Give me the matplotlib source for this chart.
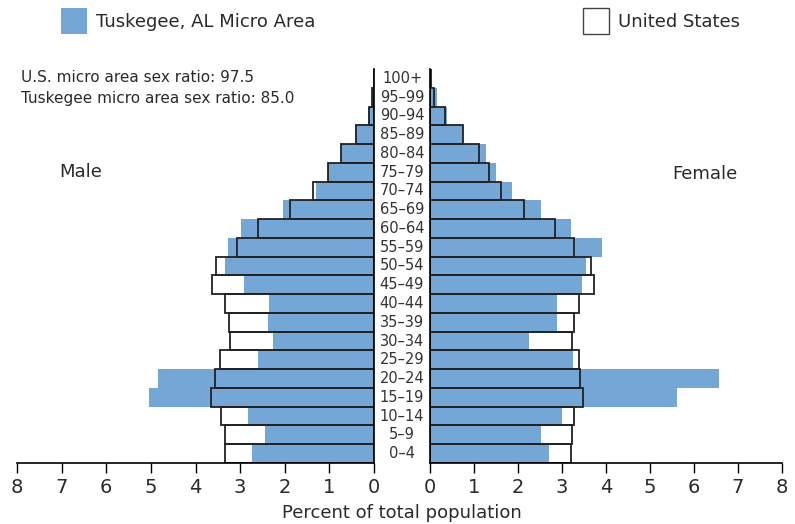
import matplotlib
matplotlib.use("Agg")
import matplotlib.pyplot as plt
from matplotlib.patches import Patch

age_groups = ["0–4", "5–9", "10–14", "15–19", "20–24", "25–29", "30–34", "35–39",
              "40–44", "45–49", "50–54", "55–59", "60–64", "65–69", "70–74", "75–79",
              "80–84", "85–89", "90–94", "95–99", "100+"]

# percent of total population, listed from 0-4 up to 100+
male_area = [2.74, 2.45, 2.83, 5.05, 4.84, 2.61, 2.26, 2.38, 2.36, 2.91, 3.33,
             3.27, 2.97, 2.04, 1.31, 1.02, 0.73, 0.42, 0.13, 0.04, 0.0]
male_us = [3.33, 3.35, 3.42, 3.65, 3.56, 3.44, 3.22, 3.24, 3.35, 3.62, 3.53,
           3.08, 2.61, 1.89, 1.37, 1.02, 0.73, 0.40, 0.12, 0.05, 0.01]
female_area = [2.70, 2.52, 3.00, 5.61, 6.57, 3.24, 2.24, 2.88, 2.88, 3.45, 3.54,
               3.92, 3.20, 2.52, 1.86, 1.50, 1.27, 0.74, 0.38, 0.15, 0.0]
female_us = [3.20, 3.22, 3.27, 3.48, 3.42, 3.39, 3.23, 3.28, 3.39, 3.72, 3.67,
             3.28, 2.83, 2.13, 1.62, 1.33, 1.11, 0.76, 0.33, 0.09, 0.02]

blue = "#74a6d6"
edge = "#222222"
txt = "#2a2a2a"

W, H = 795, 524
fig = plt.figure(figsize=(W / 100, H / 100), dpi=100)

bottom = (H - 463) / H
height = (463 - 69) / H
ax_l = fig.add_axes([17 / W, bottom, (374 - 17) / W, height])
ax_r = fig.add_axes([430 / W, bottom, (782 - 430) / W, height])

ypos = list(range(len(age_groups)))

for ax, area, us in [(ax_l, male_area, male_us), (ax_r, female_area, female_us)]:
    ax.barh(ypos, area, height=1.0, color=blue, edgecolor="none", zorder=1)
    ax.barh(ypos, us, height=1.0, facecolor="none", edgecolor=edge, linewidth=1.3, zorder=2)
    ax.set_xlim(0, 8)
    ax.set_ylim(-0.5, len(age_groups) - 0.5)
    ax.set_yticks([])
    ax.set_xticks(range(9))
    ax.tick_params(axis="x", direction="out", length=7, width=1, labelsize=14, pad=4,
                   labelcolor=txt)
    ax.spines["top"].set_visible(False)
    for s in ax.spines.values():
        s.set_linewidth(1.2)

ax_l.invert_xaxis()
ax_l.spines["left"].set_visible(False)
ax_r.spines["right"].set_visible(False)

for i, lab in enumerate(age_groups):
    y = bottom + height * (i + 0.5) / len(age_groups)
    fig.text(402 / W, y, lab, ha="center", va="center", fontsize=10.5, color="#333333")

fig.text(402 / W, 1 - 513 / H, "Percent of total population", ha="center", va="center",
         fontsize=13, color=txt)

fig.text(21 / W, 1 - 78 / H, "U.S. micro area sex ratio: 97.5", ha="left", va="center",
         fontsize=11, color=txt)
fig.text(21 / W, 1 - 98 / H, "Tuskegee micro area sex ratio: 85.0", ha="left", va="center",
         fontsize=11, color=txt)
fig.text(81 / W, 1 - 172 / H, "Male", ha="center", va="center", fontsize=13, color=txt)
fig.text(705 / W, 1 - 174 / H, "Female", ha="center", va="center", fontsize=13, color=txt)

leg1 = fig.legend(handles=[Patch(facecolor=blue, edgecolor="none", label="Tuskegee, AL Micro Area")],
                  loc="center left", bbox_to_anchor=(45 / W, 1 - 21 / H), frameon=False,
                  fontsize=13, handlelength=1.4, handleheight=1.9, handletextpad=0.5)
leg2 = fig.legend(handles=[Patch(facecolor="white", edgecolor="#444444", label="United States")],
                  loc="center left", bbox_to_anchor=(567 / W, 1 - 21 / H), frameon=False,
                  fontsize=13, handlelength=1.4, handleheight=1.9, handletextpad=0.5)
for leg in (leg1, leg2):
    for t in leg.get_texts():
        t.set_color(txt)

fig.savefig("out.png", dpi=100)
